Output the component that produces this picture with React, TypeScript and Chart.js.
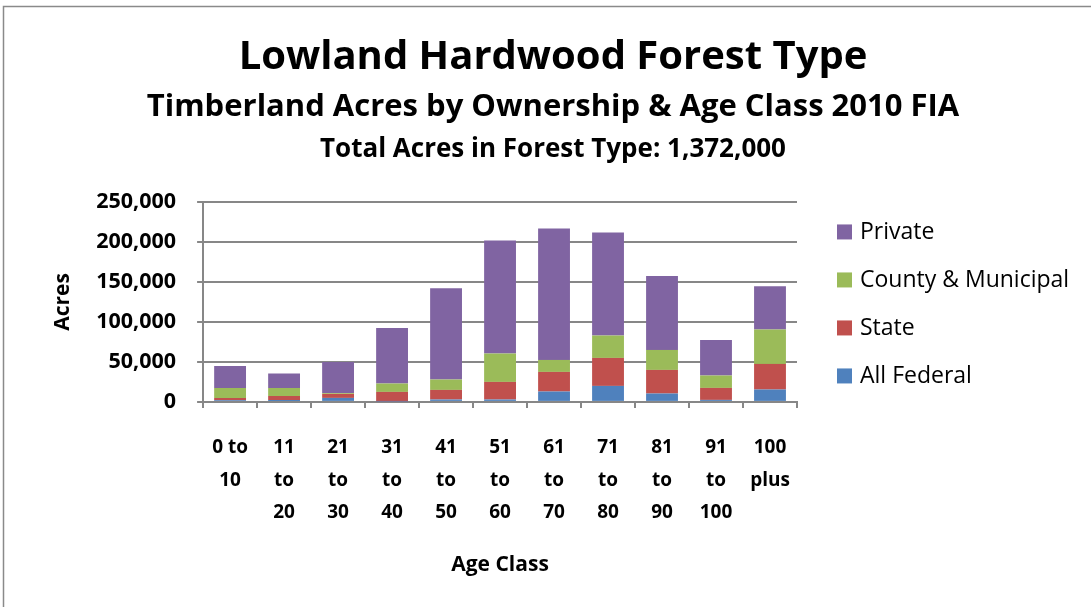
import React, { useEffect, useRef } from 'react';
import { Chart, registerables } from 'chart.js';

Chart.register(...registerables);

const categories: string[][] = [
  ['0 to', '10'],
  ['11', 'to', '20'],
  ['21', 'to', '30'],
  ['31', 'to', '40'],
  ['41', 'to', '50'],
  ['51', 'to', '60'],
  ['61', 'to', '70'],
  ['71', 'to', '80'],
  ['81', 'to', '90'],
  ['91', 'to', '100'],
  ['100', 'plus'],
];

const allFederal = [2000, 2500, 5000, 500, 3000, 3000, 13000, 20000, 10500, 2500, 15500];
const stateOwned = [3000, 5000, 5000, 12000, 12000, 22000, 24500, 35000, 29500, 15000, 32000];
const countyMunicipal = [12500, 10000, 1000, 10500, 13000, 35500, 15000, 28000, 25000, 15500, 43000];
const privateOwned = [27500, 18000, 39000, 69500, 114000, 141500, 164500, 129000, 92500, 44500, 54000];

const yMin = 0;
const yMax = 250000;
const yStep = 50000;

const titleLines = [
  'Lowland Hardwood Forest Type',
  'Timberland Acres by Ownership & Age Class 2010 FIA',
  'Total Acres in Forest Type: 1,372,000',
];
const xAxisTitle = 'Age Class';
const yAxisTitle = 'Acres';

const FONT = '"Open Sans", Lato, sans-serif';
const GRID = '#878787';

const framePlugin = {
  id: 'frame',
  beforeDraw(chart: any) {
    const ctx = chart.ctx;
    ctx.save();
    ctx.strokeStyle = '#8a8a8a';
    ctx.lineWidth = 1.5;
    ctx.beginPath();
    ctx.moveTo(3.5, chart.height);
    ctx.lineTo(3.5, 6.5);
    ctx.lineTo(chart.width, 6.5);
    ctx.stroke();
    ctx.restore();
  },
};

const titlesPlugin = {
  id: 'titles',
  afterDraw(chart: any) {
    const ctx = chart.ctx;
    ctx.save();
    ctx.fillStyle = '#000';
    ctx.textAlign = 'center';
    ctx.textBaseline = 'middle';
    const sizes = [40, 31, 26];
    const ys = [58, 107, 150];
    titleLines.forEach((t, i) => {
      ctx.font = `bold ${sizes[i]}px ${FONT}`;
      ctx.fillText(t, 553, ys[i]);
    });
    ctx.restore();
  },
};

// Legend drawn to the right of the plot, in reverse dataset order (as in the original)
const sideLegendPlugin = {
  id: 'sideLegend',
  afterDraw(chart: any) {
    const ctx = chart.ctx;
    const area = chart.chartArea;
    const sets = chart.data.datasets.slice().reverse();
    const spacing = 48;
    const box = 15;
    const x = area.right + 40;
    const y0 = (area.top + area.bottom) / 2 + 2 - (spacing * (sets.length - 1)) / 2;
    ctx.save();
    ctx.font = `23px ${FONT}`;
    ctx.textBaseline = 'middle';
    ctx.textAlign = 'left';
    sets.forEach((ds: any, i: number) => {
      const y = y0 + i * spacing;
      ctx.fillStyle = ds.backgroundColor;
      ctx.fillRect(x, y - box / 2, box, box);
      ctx.fillStyle = '#000';
      ctx.fillText(ds.label, x + box + 8, y + 1);
    });
    ctx.restore();
  },
};

export default function App() {
  const ref = useRef<HTMLCanvasElement | null>(null);

  useEffect(() => {
    document.body.style.margin = '0';
    if (!ref.current) return;
    const chart = new Chart(ref.current, {
      type: 'bar',
      data: {
        labels: categories as any,
        datasets: [
          { label: 'All Federal', data: allFederal, backgroundColor: '#4F81BD' },
          { label: 'State', data: stateOwned, backgroundColor: '#C0504D' },
          { label: 'County & Municipal', data: countyMunicipal, backgroundColor: '#9BBB59' },
          { label: 'Private', data: privateOwned, backgroundColor: '#8064A2' },
        ],
      },
      options: {
        animation: false,
        responsive: false,
        maintainAspectRatio: false,
        layout: { padding: { top: 202, left: 50, right: 294, bottom: 29 } },
        datasets: { bar: { categoryPercentage: 1, barPercentage: 0.59 } },
        plugins: {
          legend: { display: false },
          title: { display: false },
          tooltip: { enabled: false },
        },
        scales: {
          x: {
            stacked: true,
            grid: {
              offset: true,
              drawOnChartArea: false,
              drawTicks: true,
              tickLength: 6,
              color: GRID,
              lineWidth: 2,
            },
            border: { color: GRID, width: 2 },
            ticks: {
              color: '#000',
              font: { family: FONT, size: 19, weight: 'bold', lineHeight: 1.7 },
              padding: 24,
              maxRotation: 0,
              autoSkip: false,
            },
            title: {
              display: true,
              text: xAxisTitle,
              color: '#000',
              font: { family: FONT, size: 21, weight: 'bold' },
              padding: { top: 0, bottom: 0 },
            },
          },
          y: {
            stacked: true,
            min: yMin,
            max: yMax,
            grid: { color: GRID, lineWidth: 2, tickLength: 6 },
            border: { color: GRID, width: 2 },
            ticks: {
              stepSize: yStep,
              color: '#000',
              padding: 21,
              font: { family: FONT, size: 21.5, weight: 'bold' },
              callback: (v: any) => Number(v).toLocaleString('en-US'),
            },
            title: {
              display: true,
              text: yAxisTitle,
              color: '#000',
              font: { family: FONT, size: 21, weight: 'bold' },
              padding: { top: 0, bottom: 0 },
            },
          },
        },
      },
      plugins: [framePlugin, titlesPlugin, sideLegendPlugin],
    });
    return () => chart.destroy();
  }, []);

  return (
    <div style={{ width: 1091, height: 607 }}>
      <canvas ref={ref} width={1091} height={607} style={{ display: 'block' }} />
    </div>
  );
}
